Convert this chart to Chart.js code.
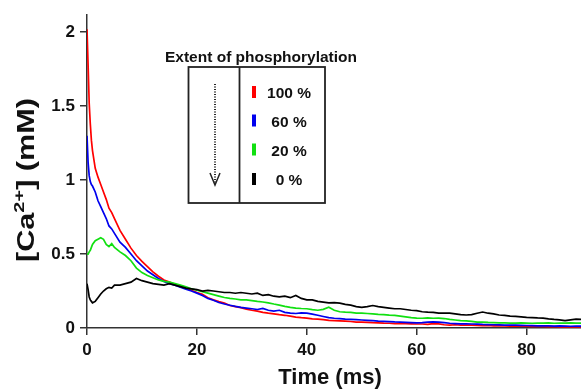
<!DOCTYPE html>
<html>
<head>
<meta charset="utf-8">
<script src="https://cdn.jsdelivr.net/npm/chart.js@4.4.1/dist/chart.umd.min.js"></script>
<style>
  html,body{margin:0;padding:0;background:#fff;}
  #wrap{width:581px;height:392px;position:relative;}
</style>
</head>
<body>
<div id="wrap"><canvas id="c" width="581" height="392"></canvas></div>
<script>
// ---- data ----
const TIMES = [0,0.2,0.4,0.6,0.8,1,1.5,2,2.5,3,3.5,4,4.5,5,
  6,7,8,9,10,11,12,13,14,15,16,17,18,19,20,21,22,23,24,25,26,27,28,29,30,
  31,32,33,34,35,36,37,38,39,40,41,42,43,44,45,46,47,48,49,50,
  51,52,53,54,55,56,57,58,59,60,61,62,63,64,65,66,67,68,69,70,
  71,72,73,74,75,76,77,78,79,80,81,82,83,84,85,86,87,88,89,90];

const P100 = [2.02,1.78,1.52,1.38,1.27,1.2,1.08,1.02,0.97,0.92,0.87,0.81,0.78,0.74,
  0.66,0.6,0.54,0.49,0.45,0.415,0.38,0.35,0.325,0.31,0.295,0.28,0.27,0.255,0.24,0.228,0.205,0.19,0.178,0.168,0.152,0.145,0.138,0.128,0.12,
  0.114,0.106,0.1,0.096,0.09,0.086,0.08,0.074,0.07,0.067,0.062,0.06,0.056,0.052,0.05,0.048,0.046,0.044,0.04,0.04,
  0.038,0.036,0.035,0.033,0.032,0.03,0.03,0.029,0.028,0.027,0.027,0.025,0.03,0.028,0.022,0.02,0.022,0.02,0.019,0.02,
  0.018,0.016,0.018,0.015,0.014,0.015,0.013,0.012,0.013,0.012,0.01,0.011,0.01,0.009,0.01,0.008,0.009,0.008,0.007,0.007];

const P60 = [1.3,1.12,1.03,0.99,0.97,0.96,0.92,0.86,0.82,0.78,0.74,0.69,0.67,0.64,
  0.58,0.545,0.5,0.455,0.42,0.385,0.36,0.335,0.315,0.3,0.29,0.275,0.262,0.25,0.236,0.22,0.2,0.188,0.172,0.162,0.154,0.146,0.14,0.135,0.13,
  0.125,0.132,0.12,0.114,0.12,0.106,0.1,0.098,0.102,0.1,0.094,0.086,0.078,0.07,0.066,0.063,0.06,0.058,0.056,0.054,
  0.052,0.05,0.047,0.045,0.043,0.041,0.04,0.038,0.036,0.034,0.036,0.04,0.042,0.04,0.036,0.032,0.03,0.028,0.028,0.027,
  0.026,0.024,0.023,0.022,0.021,0.02,0.02,0.019,0.018,0.017,0.016,0.015,0.014,0.014,0.013,0.014,0.013,0.012,0.013,0.013];

const P20 = [0.5,0.5,0.515,0.525,0.545,0.565,0.59,0.6,0.61,0.6,0.565,0.55,0.57,0.545,
  0.515,0.49,0.455,0.405,0.375,0.355,0.34,0.325,0.315,0.31,0.3,0.29,0.278,0.265,0.255,0.246,0.236,0.226,0.216,0.206,0.2,0.196,0.19,0.19,0.185,
  0.18,0.176,0.17,0.162,0.155,0.146,0.14,0.135,0.132,0.13,0.124,0.12,0.126,0.14,0.12,0.11,0.107,0.105,0.1,0.1,
  0.098,0.095,0.092,0.09,0.087,0.085,0.08,0.075,0.07,0.067,0.066,0.068,0.066,0.067,0.064,0.058,0.054,0.05,0.048,0.045,
  0.04,0.04,0.038,0.037,0.035,0.034,0.033,0.033,0.034,0.033,0.032,0.033,0.033,0.034,0.032,0.033,0.033,0.034,0.033,0.033];

const P0 = [0.3,0.26,0.21,0.19,0.18,0.17,0.18,0.205,0.23,0.25,0.265,0.275,0.27,0.29,
  0.29,0.3,0.31,0.335,0.32,0.31,0.3,0.295,0.29,0.3,0.29,0.28,0.27,0.265,0.26,0.25,0.255,0.25,0.245,0.24,0.24,0.235,0.24,0.235,0.23,
  0.235,0.22,0.225,0.215,0.21,0.215,0.205,0.22,0.2,0.19,0.19,0.18,0.175,0.17,0.172,0.168,0.16,0.155,0.145,0.14,
  0.145,0.152,0.145,0.14,0.135,0.13,0.13,0.125,0.12,0.118,0.11,0.107,0.105,0.1,0.1,0.1,0.095,0.09,0.088,0.09,
  0.1,0.108,0.1,0.095,0.088,0.085,0.08,0.078,0.075,0.072,0.07,0.068,0.067,0.062,0.058,0.055,0.05,0.055,0.06,0.058];

const SERIES_LABELS = ['100 %', '60 %', '20 %', '0 %'];
const SERIES_COLORS = ['#ff0000', '#0000ee', '#11e011', '#000000'];
const X_TICKS = [0, 20, 40, 60, 80];
const Y_TICKS = [0, 0.5, 1, 1.5, 2];
const X_TITLE = 'Time (ms)';
const Y_TITLE = ['[Ca', '2+', '] (mM)'];
const LEGEND_TITLE = 'Extent of phosphorylation';

const FONT = '"Liberation Sans", Arial, Helvetica, sans-serif';
const SERIES = [P100, P60, P20, P0];

const datasets = SERIES.map((arr, k) => ({
  label: SERIES_LABELS[k],
  data: TIMES.map((t, i) => ({x: t, y: arr[i]})),
  borderColor: SERIES_COLORS[k],
  backgroundColor: SERIES_COLORS[k],
  borderWidth: 1.7,
  pointRadius: 0,
  tension: 0,
  fill: false,
  order: 4 - k
}));

const overlay = {
  id: 'overlay',
  afterDraw(chart) {
    const ctx = chart.ctx;
    ctx.save();
    ctx.fillStyle = '#111';
    ctx.strokeStyle = '#222';
    // x title
    ctx.font = 'bold 22px ' + FONT;
    ctx.textAlign = 'center';
    ctx.textBaseline = 'alphabetic';
    ctx.fillText(X_TITLE, 330, 384);
    // y title with superscript (stretched along its length to match the original)
    ctx.save();
    ctx.translate(34, 180);
    ctx.rotate(-Math.PI / 2);
    ctx.textAlign = 'left';
    const big = 'bold 23px ' + FONT, small = 'bold 15px ' + FONT;
    ctx.font = big; const w1 = ctx.measureText(Y_TITLE[0]).width;
    const w3 = ctx.measureText(Y_TITLE[2]).width;
    ctx.font = small; const w2 = ctx.measureText(Y_TITLE[1]).width;
    const total = w1 + w2 + w3;
    ctx.scale(164 / total, 1);
    let x = -total / 2;
    ctx.font = big; ctx.fillText(Y_TITLE[0], x, 0); x += w1;
    ctx.font = small; ctx.fillText(Y_TITLE[1], x, -10); x += w2;
    ctx.font = big; ctx.fillText(Y_TITLE[2], x, 0);
    ctx.restore();

    // legend title
    ctx.font = 'bold 15.5px ' + FONT;
    ctx.textAlign = 'center';
    ctx.fillText(LEGEND_TITLE, 261, 62);
    // legend box
    ctx.lineWidth = 1.8;
    ctx.strokeRect(188.5, 67, 136.5, 136);
    ctx.beginPath();
    ctx.moveTo(239.5, 67); ctx.lineTo(239.5, 203);
    ctx.stroke();
    // dotted arrow
    ctx.save();
    ctx.lineWidth = 2;
    ctx.setLineDash([1, 1.5]);
    ctx.beginPath();
    ctx.moveTo(215, 84); ctx.lineTo(215, 184);
    ctx.stroke();
    ctx.setLineDash([]);
    ctx.lineWidth = 1.5;
    ctx.beginPath();
    ctx.moveTo(210, 173); ctx.lineTo(215, 185); ctx.lineTo(220, 173);
    ctx.stroke();
    ctx.restore();
    // legend items
    const rowY = [92, 120.5, 149.5, 179];
    chart.data.datasets.forEach((ds, k) => {
      ctx.fillStyle = ds.borderColor;
      ctx.fillRect(252, rowY[k] - 6, 4, 12);
      ctx.fillStyle = '#111';
      ctx.font = 'bold 15.5px ' + FONT;
      ctx.textAlign = 'center';
      ctx.fillText(ds.label, 289, rowY[k] + 6);
    });
    ctx.restore();
  }
};

new Chart(document.getElementById('c'), {
  type: 'line',
  data: { datasets },
  plugins: [overlay],
  options: {
    responsive: false,
    animation: false,
    events: [],
    layout: { padding: { top: 13, right: 0, left: 0, bottom: 0 } },
    plugins: { legend: { display: false }, tooltip: { enabled: false } },
    scales: {
      x: {
        type: 'linear', min: 0, max: 89.9,
        afterBuildTicks: s => { s.ticks = X_TICKS.map(v => ({value: v})); },
        afterFit: s => { s.height = 64; },
        ticks: { color: '#111', padding: 5, maxRotation: 0,
                 font: { family: FONT, size: 17, weight: 'bold' },
                 callback: v => String(v) },
        grid: { drawOnChartArea: false, drawTicks: true, tickLength: 7, color: '#333', lineWidth: 1.5 },
        border: { display: true, color: '#333', width: 1.5 }
      },
      y: {
        type: 'linear', min: 0, max: 2.115,
        afterBuildTicks: s => { s.ticks = Y_TICKS.map(v => ({value: v})); },
        afterFit: s => { s.width = 87; },
        ticks: { color: '#111', padding: 5,
                 font: { family: FONT, size: 17, weight: 'bold' },
                 callback: v => String(v) },
        grid: { drawOnChartArea: false, drawTicks: true, tickLength: 7, color: '#333', lineWidth: 1.5 },
        border: { display: true, color: '#333', width: 1.5 }
      }
    }
  }
});
</script>
</body>
</html>
